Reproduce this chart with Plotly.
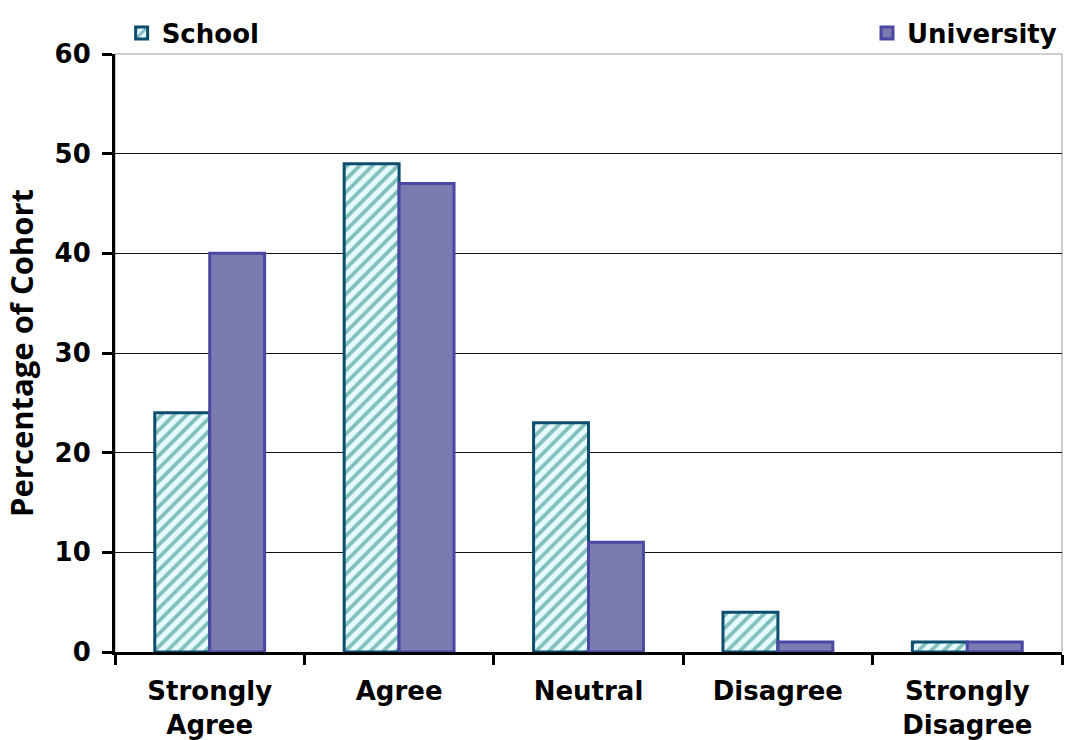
import plotly.graph_objects as go

categories = ["Strongly<br>Agree", "Agree", "Neutral", "Disagree", "Strongly<br>Disagree"]
school = [24, 49, 23, 4, 1]
university = [40, 47, 11, 1, 1]
y_ticks = [0, 10, 20, 30, 40, 50, 60]

FONT = "DejaVu Sans"
FS = 26

fig = go.Figure()
fig.add_trace(go.Bar(
    x=categories, y=school, name="<b>School</b>",
    marker=dict(color="#e6fbfb",
                line=dict(color="#0d4d6e", width=3),
                pattern=dict(shape="/", fgcolor="#1f8282", bgcolor="#e6fbfb", size=9, solidity=0.42)),
    legend="legend",
))
fig.add_trace(go.Bar(
    x=categories, y=university, name="<b>University</b>",
    marker=dict(color="#7b7bb2", line=dict(color="#4a48a3", width=3)),
    legend="legend2",
))

fig.update_layout(
    width=1066, height=740,
    margin=dict(l=115, r=4, t=54, b=88),
    paper_bgcolor="white", plot_bgcolor="white",
    barmode="group", bargap=0.42, bargroupgap=0,
    showlegend=True,
    font=dict(family=FONT, size=FS, color="black"),
    legend=dict(x=0.007, xanchor="left", y=1.035, yanchor="middle",
                font=dict(family=FONT, size=FS, color="black"),
                bgcolor="rgba(0,0,0,0)", itemwidth=30, borderwidth=0),
    legend2=dict(x=1.0, xanchor="right", y=1.035, yanchor="middle",
                 font=dict(family=FONT, size=FS, color="black"),
                 bgcolor="rgba(0,0,0,0)", itemwidth=30, borderwidth=0),
    shapes=[dict(type="rect", xref="paper", yref="paper", x0=0, x1=1, y0=0, y1=1,
                 line=dict(color="#999999", width=1), layer="below")],
)
fig.update_xaxes(
    showline=True, linecolor="black", linewidth=3,
    ticks="outside", tickson="boundaries", ticklen=10, tickwidth=3, tickcolor="black",
    tickfont=dict(family=FONT, size=FS, color="black"),
    showgrid=False, tickangle=0, ticklabelstandoff=14, automargin=False,
    tickvals=categories, ticktext=["<b>" + c + "</b>" for c in categories],
)
fig.update_yaxes(
    range=[0, 60], tickvals=y_ticks, ticktext=["<b>%d</b>" % v for v in y_ticks],
    showline=True, linecolor="black", linewidth=3,
    ticks="outside", ticklen=10, tickwidth=3, tickcolor="black",
    tickfont=dict(family=FONT, size=FS, color="black"), ticklabelstandoff=6,
    showgrid=True, gridcolor="#111111", gridwidth=1,
    title=dict(text="<b>Percentage of Cohort</b>", font=dict(family="Open Sans", size=31, color="black"), standoff=15),
)

fig.write_html("out.html", config={"displayModeBar": False},
               post_script="document.body.style.margin='0';")
